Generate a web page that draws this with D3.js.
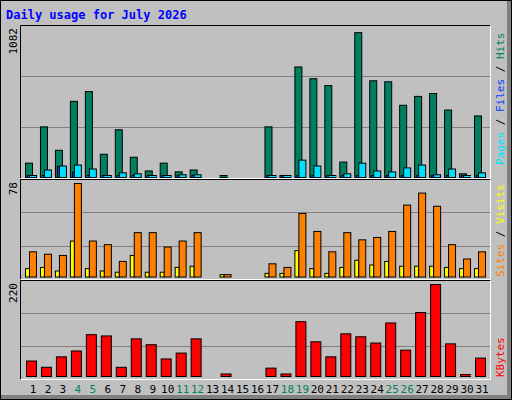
<!DOCTYPE html>
<html><head><meta charset="utf-8">
<script src="https://cdn.jsdelivr.net/npm/d3@7"></script>
<style>body{margin:0}svg{display:block}text{font-family:"DejaVu Sans Mono",monospace}</style>
</head><body><svg id="c" width="512" height="400"></svg>
<script>
const days = d3.range(1, 32);
const weekends = [4, 5, 11, 12, 18, 19, 25, 26];
const hits = [105,370,199,557,628,170,349,148,48,105,41,55,0,5,0,0,370,15,808,722,672,113,1059,707,700,528,593,614,493,27,450];
const files = [5,55,84,91,62,3,34,27,3,5,20,20,0,0,0,0,5,5,127,84,5,27,105,48,41,70,91,20,62,3,34];
const pages = [2,3,80,38,4,2,3,3,2,3,3,3,0,0,0,0,2,2,4,3,2,3,4,3,3,3,6,3,3,1,3];
const visits = [21,19,18,78,30,27,13,37,37,25,30,37,0,2,0,0,11,8,53,38,21,37,31,33,38,60,70,59,27,15,21];
const sites = [7,8,5,30,7,5,4,18,4,4,8,9,0,2,0,0,3,3,22,7,3,8,14,10,13,9,9,9,8,7,7];
const kbytes = [37,22,47,61,100,97,22,90,76,42,56,90,0,6,0,0,20,6,131,83,47,102,95,80,128,63,153,220,78,1,44];
const maxHits = 1082, maxVisits = 78, maxKB = 220;

const svg = d3.select("#c");
// frame
svg.append("rect").attr("width", 512).attr("height", 400).attr("fill", "#808080");
svg.append("rect").attr("x", 1).attr("y", 1).attr("width", 506).attr("height", 394).attr("fill", "#c0c0c0");
svg.append("rect").attr("x", 0.5).attr("y", 0.5).attr("width", 511).attr("height", 399).attr("fill", "none").attr("stroke", "#000");

svg.append("text").attr("x", 6).attr("y", 19).attr("fill", "#0000ff")
  .attr("font-size", 12).attr("font-weight", "bold").text("Daily usage for July 2026");

const x = d3.scaleLinear().domain([1, 31]).range([33, 482]);

const panels = [
  { top: 25, bottom: 178, base: 177, max: maxHits, label: "1082" },
  { top: 179, bottom: 279, base: 276.5, max: maxVisits, label: "78" },
  { top: 280, bottom: 379, base: 376, max: maxKB, label: "220" }
];
panels.forEach(p => {
  svg.append("rect").attr("x", 20.5).attr("y", p.top + 0.5).attr("width", 470).attr("height", p.bottom - p.top)
    .attr("fill", "#c0c0c0").attr("stroke", "none");
  const third = (p.bottom - p.top) / 3;
  [1, 2].forEach(i => svg.append("line").attr("x1", 21).attr("x2", 490)
    .attr("y1", Math.round(p.top + third * i) + 0.5).attr("y2", Math.round(p.top + third * i) + 0.5)
    .attr("stroke", "#808080").attr("stroke-width", 1));
  svg.append("path").attr("d", `M20.5,${p.bottom + 0.5}V${p.top + 0.5}H490.5`).attr("fill", "none").attr("stroke", "#000");
  svg.append("path").attr("d", `M20.5,${p.bottom + 0.5}H490.5V${p.top + 0.5}`).attr("fill", "none").attr("stroke", "#fff");
  p.y = d3.scaleLinear().domain([0, p.max]).range([p.base, p.top + 4]);
  svg.append("text").attr("transform", `translate(17,${p.top + 3}) rotate(-90)`).attr("text-anchor", "end")
    .attr("font-size", 11).attr("fill", "#000").text(p.label);
});

function bars(vals, p, dx, w, fill) {
  svg.append("g").selectAll("rect").data(vals.map((v, i) => ({ d: days[i], v })).filter(o => o.v > 0))
    .join("rect")
    .attr("x", o => x(o.d) + dx + 0.5).attr("width", w)
    .attr("y", o => Math.min(p.y(o.v), p.base - 2) + 0.5)
    .attr("height", o => Math.max(p.base - p.y(o.v), 2))
    .attr("fill", fill).attr("stroke", "#000");
}
bars(hits, panels[0], -8, 7, "#008060");
bars(pages, panels[0], -6, 7, "#0040ff");
bars(files, panels[0], -4, 7, "#00e0ff");
bars(sites, panels[1], -8, 4, "#ffff00");
bars(visits, panels[1], -4, 7, "#ff8000");
bars(kbytes, panels[2], -7, 10, "#ff0000");

svg.append("g").selectAll("text").data(days).join("text")
  .attr("x", d => x(d)).attr("y", 393).attr("text-anchor", "middle").attr("font-size", 11)
  .attr("fill", d => weekends.includes(d) ? "#008060" : "#000").text(d => d);

function sideLabel(yEnd, parts) {
  const t = svg.append("text").attr("transform", `translate(504,${yEnd}) rotate(-90)`).attr("font-size", 11);
  parts.forEach(([s, c]) => t.append("tspan").attr("fill", c).text(s));
}
sideLabel(165, [["Pages", "#00e0ff"], [" / ", "#000"], ["Files", "#0040ff"], [" / ", "#000"], ["Hits", "#008060"]]);
sideLabel(277, [["Sites", "#ff8000"], [" / ", "#000"], ["Visits", "#ffff00"]]);
sideLabel(377, [["KBytes", "#ff0000"]]);
</script></body></html>
